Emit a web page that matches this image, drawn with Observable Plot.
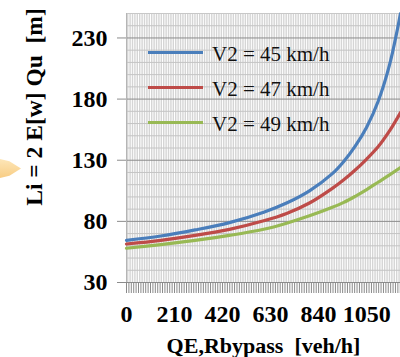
<!DOCTYPE html>
<html>
<head>
<meta charset="utf-8">
<script src="https://cdn.jsdelivr.net/npm/d3@7"></script>
<script src="https://cdn.jsdelivr.net/npm/@observablehq/plot@0.6"></script>
<style>
  body { margin: 0; background: #fff; }
  #wrap { position: relative; width: 400px; height: 357px; overflow: hidden; font-family: "Liberation Serif", "Times New Roman", serif; }
  #wrap svg { position: absolute; left: 0; top: 0; }
  .key { position: absolute; left: 148px; width: 55px; height: 3px; }
  .keytext { position: absolute; left: 212px; font-size: 21px; line-height: 24px; color: #111; white-space: nowrap; }
  .blob { position: absolute; left: 0; top: 159px; width: 21px; height: 19px;
          background: linear-gradient(180deg, #fde6b8, #f8cd84);
          clip-path: polygon(0 0, 45% 12%, 100% 50%, 45% 88%, 0 100%); }
</style>
</head>
<body>
<div id="wrap"></div>
<script>
// Bypass flow (veh/h) and queue length (m) for three bypass speeds
const flow = [0, 150, 300, 450, 600, 700, 800, 900, 950, 1000, 1050, 1100, 1150, 1198];
const v45 = [64.5, 68, 73, 79, 87.5, 95, 105, 119, 129, 141.5, 157, 178, 208, 250];
const v47 = [61.5, 64.5, 68.5, 73.5, 80.5, 86.5, 95, 107, 114, 122, 131, 141, 154, 169];
const v49 = [58, 61, 64.5, 68.5, 73.5, 78.5, 84.5, 91.5, 95.5, 100.5, 106, 112, 118, 124];

const seriesNames = ["V2 = 45 km/h", "V2 = 47 km/h", "V2 = 49 km/h"];
const seriesColors = ["#4a7ebb", "#be4b48", "#98b954"];
const yTicks = [30, 80, 130, 180, 230];
const xTicks = [0, 210, 420, 630, 840, 1050];
const yTitle = "Li = 2 E[w] Qu\u00a0\u00a0[m]";
const xTitle = "QE,Rbypass\u00a0\u00a0[veh/h]";

const rows = [];
[v45, v47, v49].forEach((vals, k) => {
  vals.forEach((v, i) => rows.push({ series: seriesNames[k], q: flow[i], L: v }));
});

// dense category gridlines and minor horizontal gridlines
const xGrid = d3.range(0, 1198, 10.5);
const yMinor = d3.range(40, 250, 10).filter(v => (v - 30) % 50 !== 0);

const serif = "Liberation Serif, Times New Roman, serif";

const chart = Plot.plot({
  width: 400,
  height: 357,
  marginLeft: 126,
  marginRight: 0,
  marginTop: 13,
  marginBottom: 75,
  style: { fontFamily: serif, background: "transparent", overflow: "visible" },
  x: { domain: [0, 1198], axis: null },
  y: { domain: [30, 250], axis: null },
  color: { domain: seriesNames, range: seriesColors },
  marks: [
    Plot.frame({ fill: "#d5d5d5", stroke: null }),
    Plot.ruleX(xGrid, { stroke: "#ffffff", strokeWidth: 1 }),
    Plot.ruleY(yMinor, { stroke: "#c4c4c4", strokeWidth: 1 }),
    Plot.ruleY(yTicks, { stroke: "#8c8c8c", strokeWidth: 1 }),
    Plot.ruleY([250], { stroke: "#c8c8c8" }),
    Plot.ruleX([0], { stroke: "#b5b5b5" }),
    Plot.axisX({ ticks: xGrid, tickSize: 11, tickFormat: () => "", stroke: "#8a8a8a", label: null }),
    Plot.axisX({ ticks: xTicks, tickSize: 0, tickPadding: 22, tickFormat: d => String(d), label: null,
      fontSize: 24, fontWeight: "bold", fill: "#000" }),
    Plot.axisY({ ticks: yTicks, tickSize: 9, tickPadding: 10, label: null, stroke: "#8c8c8c",
      fontSize: 24, fontWeight: "bold", fill: "#000" }),
    Plot.line(rows, { x: "q", y: "L", stroke: "series", strokeWidth: 3.2, curve: "catmull-rom" }),
    Plot.text([yTitle], { frameAnchor: "left", rotate: -90, dx: -85, dy: -41, lineAnchor: "bottom",
      textAnchor: "middle", fill: "#000", fontFamily: serif, fontSize: 23.5, fontWeight: "bold" }),
    Plot.text([xTitle], { frameAnchor: "bottom", dy: 70, lineAnchor: "bottom", textAnchor: "middle",
      fill: "#000", fontFamily: serif, fontSize: 22, fontWeight: "bold" })
  ]
});

const wrap = document.getElementById("wrap");
wrap.appendChild(chart);

// legend drawn inside the plot area
const legendTop = [52.7, 87.7, 122.7];
seriesNames.forEach((name, i) => {
  const key = document.createElement("div");
  key.className = "key";
  key.style.top = (legendTop[i] - 1.5) + "px";
  key.style.background = seriesColors[i];
  wrap.appendChild(key);
  const t = document.createElement("div");
  t.className = "keytext";
  t.style.top = (legendTop[i] - 11) + "px";
  t.textContent = name;
  wrap.appendChild(t);
});

const blob = document.createElement("div");
blob.className = "blob";
wrap.appendChild(blob);
</script>
</body>
</html>
